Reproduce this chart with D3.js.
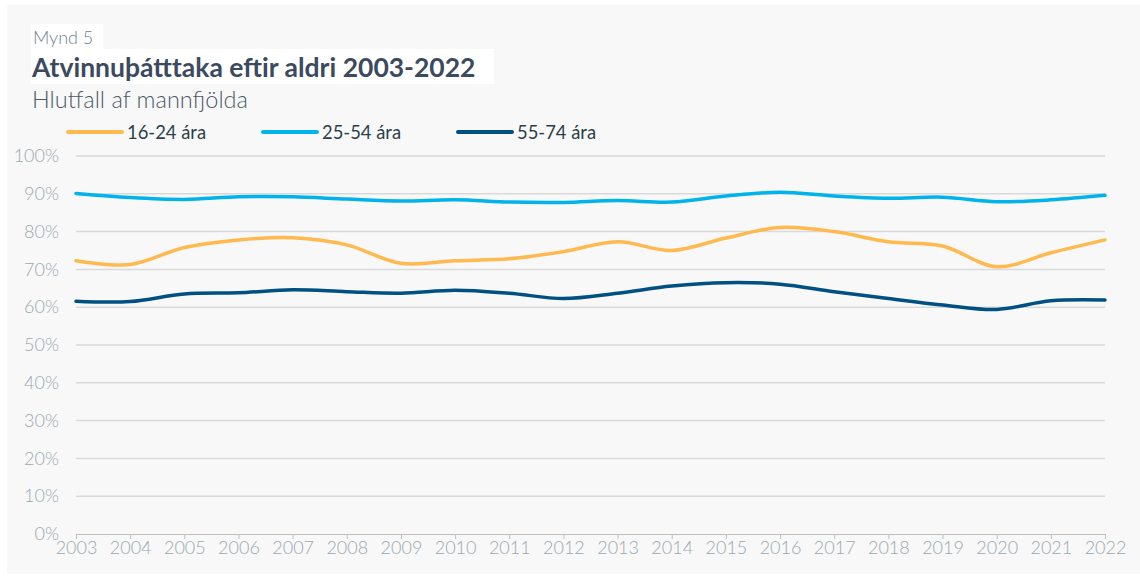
<!DOCTYPE html>
<html>
<head>
<meta charset="utf-8">
<script src="https://cdn.jsdelivr.net/npm/d3@7"></script>
<style>
	body { margin: 0; background: #ffffff; }
	svg { display: block; font-family: Lato, "Open Sans", sans-serif; }
</style>
</head>
<body>
<svg class="chart"></svg>
<script>
// data
var years = [2003, 2004, 2005, 2006, 2007, 2008, 2009, 2010, 2011, 2012,
	2013, 2014, 2015, 2016, 2017, 2018, 2019, 2020, 2021, 2022];
var series_names = ["16-24 ára", "25-54 ára", "55-74 ára"];
var young = [72.3, 71.3, 75.8, 77.8, 78.4, 76.5, 71.6, 72.3, 72.8, 74.7,
	77.3, 75.0, 78.3, 81.1, 80.0, 77.3, 76.2, 70.7, 74.4, 77.8];
var middle = [90.1, 89.0, 88.5, 89.2, 89.2, 88.6, 88.1, 88.4, 87.8, 87.7,
	88.2, 87.8, 89.4, 90.4, 89.4, 88.8, 89.1, 87.9, 88.4, 89.6];
var old = [61.6, 61.5, 63.5, 63.8, 64.6, 64.1, 63.7, 64.5, 63.7, 62.3,
	63.7, 65.6, 66.5, 66.1, 64.1, 62.3, 60.6, 59.4, 61.7, 61.9];
var y_ticks = [0, 10, 20, 30, 40, 50, 60, 70, 80, 90, 100];
var colors = ["#ffb94f", "#00b3ec", "#005082"];

var W = 1140, H = 576;
var plot_left = 76, plot_right = 1105, plot_top = 156, plot_bottom = 534;

var svg = d3.select(".chart")
	.attr("width", W)
	.attr("height", H);

// background panel
svg.append("rect")
	.attr("x", 7).attr("y", 5)
	.attr("width", W - 7).attr("height", 569)
	.attr("fill", "#f8f8f8");

// white boxes behind the heading
svg.append("rect").attr("x", 31).attr("y", 24).attr("width", 72).attr("height", 25).attr("fill", "#fff");
svg.append("rect").attr("x", 31).attr("y", 49).attr("width", 463).attr("height", 35).attr("fill", "#fff");

svg.append("text")
	.attr("x", 33).attr("y", 44)
	.attr("font-size", 18).attr("font-weight", 300)
	.attr("fill", "#6f8290")
	.text("Mynd 5");

svg.append("text")
	.attr("x", 32).attr("y", 77)
	.attr("font-size", 26.5).attr("font-weight", 700)
	.attr("fill", "#3b4a5e")
	.text("Atvinnuþátttaka eftir aldri 2003-2022");

svg.append("text")
	.attr("x", 32).attr("y", 108)
	.attr("font-size", 23.5).attr("font-weight", 300)
	.attr("fill", "#4a5a66")
	.text("Hlutfall af mannfjölda");

// scales
var x = d3.scaleLinear()
	.domain([years[0], years[years.length - 1]])
	.range([plot_left, plot_right]);
var y = d3.scaleLinear()
	.domain([0, 100])
	.range([plot_bottom, plot_top]);

// gridlines
svg.append("g")
	.selectAll("line")
	.data(y_ticks.filter(function(d) { return d > 0; }))
	.enter().append("line")
		.attr("x1", plot_left).attr("x2", plot_right)
		.attr("y1", function(d) { return y(d); })
		.attr("y2", function(d) { return y(d); })
		.attr("stroke", "#d9d9d9")
		.attr("stroke-width", 1.5);

// y axis labels
var yAxis = svg.append("g")
	.attr("transform", "translate(" + plot_left + ",0)")
	.call(d3.axisLeft(y).tickValues(y_ticks).tickSize(0).tickPadding(17)
		.tickFormat(function(d) { return d + "%"; }));
yAxis.select(".domain").remove();
yAxis.selectAll("text")
	.attr("font-family", "Lato, sans-serif")
	.attr("font-size", 18).attr("font-weight", 300)
	.attr("fill", "#9aa8b0");

// x axis
var xAxis = svg.append("g")
	.attr("transform", "translate(0," + plot_bottom + ")")
	.call(d3.axisBottom(x).tickValues(years).tickSize(5).tickPadding(2)
		.tickFormat(d3.format("d")));
xAxis.select(".domain").attr("stroke", "#bfbfbf");
xAxis.selectAll(".tick line").attr("stroke", "#bfbfbf");
xAxis.selectAll("text")
	.attr("font-family", "Lato, sans-serif")
	.attr("font-size", 18).attr("font-weight", 300)
	.attr("fill", "#9aa8b0");

// lines
var all_series = [young, middle, old];
var line = d3.line()
	.x(function(d, i) { return x(years[i]); })
	.y(function(d) { return y(d); })
	.curve(d3.curveCatmullRom.alpha(0.5));

svg.append("g")
	.selectAll("path")
	.data(all_series)
	.enter().append("path")
		.attr("d", line)
		.attr("fill", "none")
		.attr("stroke", function(d, i) { return colors[i]; })
		.attr("stroke-width", 3.5)
		.attr("stroke-linecap", "round");

// legend
var legend = svg.append("g")
	.selectAll("g")
	.data(series_names)
	.enter().append("g")
		.attr("transform", function(d, i) { return "translate(" + (68 + i * 195) + ",132)"; });

legend.append("line")
	.attr("x1", 0).attr("x2", 54)
	.attr("stroke", function(d, i) { return colors[i]; })
	.attr("stroke-width", 4)
	.attr("stroke-linecap", "round");

legend.append("text")
	.attr("x", 59).attr("y", 6.5)
	.attr("font-size", 18.4)
	.attr("fill", "#2a3f4a")
	.text(function(d) { return d; });
</script>
</body>
</html>
